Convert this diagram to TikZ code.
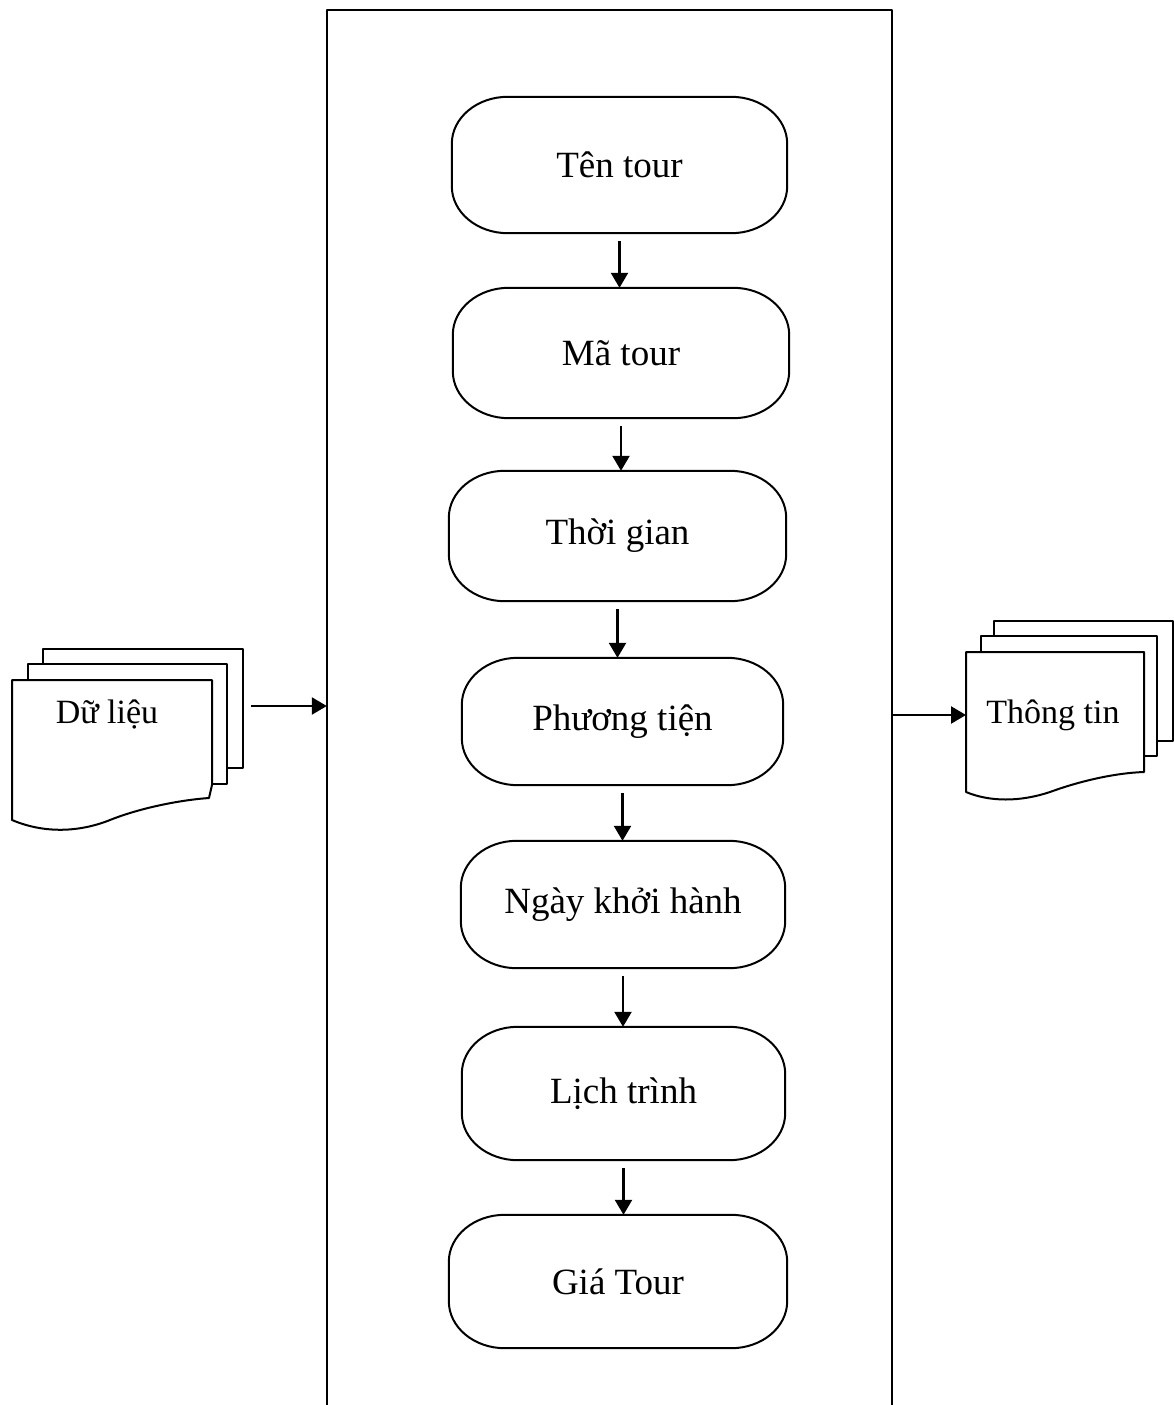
\documentclass[tikz,border=0pt]{standalone}
\usepackage{fontspec}
\setmainfont{Liberation Serif}
\usetikzlibrary{arrows.meta,calc}

\tikzset{
  outline/.style={line width=2pt, line join=round},
  page/.style={outline, fill=white},
  flowarrow/.style={line width=2.4pt, -{Triangle[length=15pt,width=17pt]}},
  boxtext/.style={font=\fontsize{37}{44}\selectfont, inner sep=0pt},
  doctext/.style={font=\fontsize{34}{40}\selectfont, inner sep=0pt},
}

% process box with elliptical corners: name, cx, cy, width, height, label
\newcommand\flowbox[6]{%
  \node[boxtext, minimum width=#4pt, minimum height=#5pt] (#1) at (#2,#3) {#6};
  \draw[outline] ([xshift=56pt]#1.north west) -- ([xshift=-56pt]#1.north east)
    arc[start angle=90, end angle=0, x radius=56pt, y radius=47pt]
    -- ([yshift=47pt]#1.south east)
    arc[start angle=0, end angle=-90, x radius=56pt, y radius=47pt]
    -- ([xshift=56pt]#1.south west)
    arc[start angle=270, end angle=180, x radius=56pt, y radius=47pt]
    -- ([yshift=-47pt]#1.north west)
    arc[start angle=180, end angle=90, x radius=56pt, y radius=47pt] -- cycle;
}

\begin{document}
\begin{tikzpicture}[x=1pt, y=-1pt]
\useasboundingbox (0,0) rectangle (1174,1405);

% outer frame, open at the bottom
\node[minimum width=565pt, minimum height=1410pt, inner sep=0pt] (frame) at (609.5,715) {};
\draw[outline] (frame.south west) -- (frame.north west) -- (frame.north east) -- (frame.south east);

% process steps
\flowbox{b1}{619.5}{165}{335}{136}{Tên tour}
\flowbox{b2}{621}{353}{336}{130}{Mã tour}
\flowbox{b3}{617.5}{536}{337}{130}{Thời gian}
\flowbox{b4}{622.5}{721.5}{321}{127}{Phương tiện}
\flowbox{b5}{623}{904.5}{324}{127}{Ngày khởi hành}
\flowbox{b6}{623.5}{1093.5}{323}{133}{Lịch trình}
\flowbox{b7}{618}{1281.5}{338}{133}{Giá Tour}

\foreach \a/\b in {b1/b2, b2/b3, b3/b4, b4/b5, b5/b6, b6/b7}
  \draw[flowarrow, shorten <=8pt] (\a.south) -- (\a.south |- \b.north);

% input document stack
\draw[page] (43,649) rectangle (243,768);
\draw[page] (28,664) rectangle (227,784);
\draw[page] (12,680) -- (212,680) -- (212,785) -- (209,798)
  .. controls (180,800) and (140,808) .. (110,820)
  .. controls (80,832) and (45,834) .. (12,820) -- cycle;
\node[doctext] (inlabel) at (107,714) {Dữ liệu};

% output document stack
\draw[page] (994,621) rectangle (1173,741);
\draw[page] (981,636) rectangle (1157,756);
\draw[page] (966,652) -- (1144,652) -- (1144,772)
  .. controls (1115,773) and (1080,781) .. (1050,792)
  .. controls (1020,802) and (990,802) .. (966,792) -- cycle;
\node[doctext] (outlabel) at (1053,715) {Thông tin};

% data flow in and out of the frame
\coordinate (instart) at (251,706);
\coordinate (outend) at (966,715);
\draw[flowarrow] (instart) -- (instart -| frame.west);
\draw[flowarrow] (outend -| frame.east) -- (outend);
\end{tikzpicture}
\end{document}
